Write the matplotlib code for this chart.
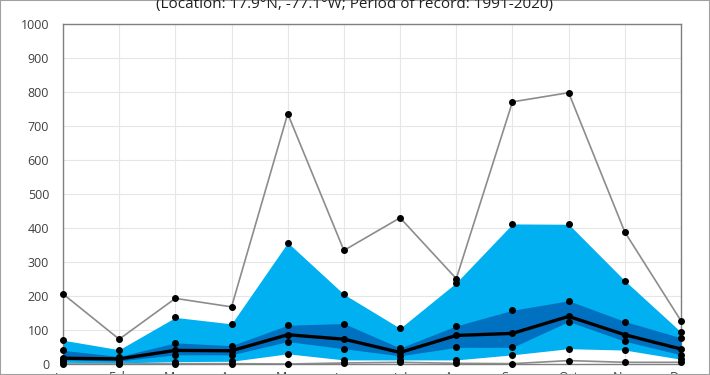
import numpy as np
import matplotlib
matplotlib.use("Agg")
import matplotlib.pyplot as plt
import matplotlib.ticker as mticker
from matplotlib.patches import Rectangle

# Monthly precipitation climatology (mm), percentiles per month
months = ["Jan", "Feb", "Mar", "Apr", "May", "Jun",
          "Jul", "Aug", "Sep", "Oct", "Nov", "Dec"]
p_max = [206, 73, 193, 168, 736, 334, 430, 251, 771, 798, 388, 127]
p90 = [70, 42, 137, 118, 357, 205, 105, 239, 412, 411, 245, 94]
p75 = [40, 22, 62, 54, 114, 119, 47, 112, 158, 186, 125, 77]
p50 = [17, 15, 40, 39, 86, 73, 34, 84, 90, 140, 86, 44]
p25 = [12, 9, 27, 27, 66, 45, 24, 49, 49, 125, 67, 27]
p10 = [5, 3, 7, 8, 30, 12, 12, 12, 27, 45, 41, 14]
p_min = [0, 0, 1, 1, 0, 3, 5, 2, 1, 10, 5, 5]

title = "(Location: 17.9°N, -77.1°W; Period of record: 1991-2020)"

plt.rcParams["font.family"] = ["Open Sans", "DejaVu Sans"]

fig = plt.figure(figsize=(7.1, 3.75), dpi=100)
ax = fig.add_axes([63 / 710, 11 / 375, 618 / 710, 340 / 375])

x = np.arange(len(months))

ax.fill_between(x, p10, p90, color="#00B0F0", lw=0, zorder=2)
ax.fill_between(x, p25, p75, color="#0070C0", lw=0, zorder=3)
ax.plot(x, p_max, "-", color="#8C8C8C", lw=1.2, zorder=4)
ax.plot(x, p_min, "-", color="#8C8C8C", lw=1.2, zorder=4)
ax.plot(x, p50, "-", color="black", lw=2.4, zorder=5)

for s in [p_max, p90, p75, p50, p25, p10, p_min]:
    ax.plot(x, s, "o", color="black", ms=4, zorder=6, clip_on=False)

ax.set_xlim(0, 11)
ax.set_ylim(0, 1000)
ax.yaxis.set_major_locator(mticker.MultipleLocator(100))
ax.set_xticks(x)
ax.set_xticklabels(months)
ax.tick_params(axis="both", length=0, labelsize=9, colors="#404040")
ax.tick_params(axis="y", pad=10)
ax.tick_params(axis="x", pad=5)
ax.grid(True, color="#E6E6E6", lw=0.8, zorder=0)
ax.set_axisbelow(True)
for sp in ax.spines.values():
    sp.set_color("#808080")
    sp.set_linewidth(1.0)

fig.text(0.5, 1 - 8 / 375, title, ha="center", va="baseline",
         fontsize=11, color="#202020")

fig.patches.append(Rectangle((0, 0), 1, 1, transform=fig.transFigure,
                             fill=False, edgecolor="#A0A0A0", lw=1.5))

fig.savefig("out.png", dpi=100)
